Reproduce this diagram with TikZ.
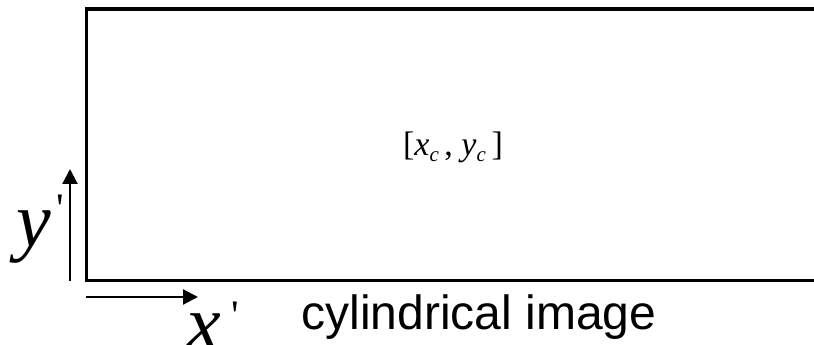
\documentclass[tikz,border=0pt]{standalone}
\usepackage{fontspec}
\setmainfont{Liberation Serif}
\newfontfamily\arialfont{Liberation Sans}
\usetikzlibrary{arrows.meta}
\tikzset{
  frame/.style={line width=3.5pt, line join=miter},
  axis/.style={line width=2.2pt, -{Triangle[width=15pt,length=15pt]}},
  biglabel/.style={inner sep=0pt, font=\fontsize{78}{80}\selectfont},
  primelabel/.style={inner sep=0pt, font=\fontsize{42}{44}\selectfont},
  caption/.style={inner sep=0pt, font=\arialfont\fontsize{48}{50}\selectfont},
  coordlabel/.style={inner sep=0pt, font=\fontsize{34}{36}\selectfont}
}
\begin{document}
\begin{tikzpicture}[x=1pt,y=1pt]
\useasboundingbox (0,0) rectangle (814,345);
\clip (0,0) rectangle (814,345);
\coordinate (tr) at (830,335.8);
\coordinate (tl) at (86.7,335.8);
\coordinate (bl) at (86.7,64.5);
\coordinate (br) at (830,64.5);
\draw[frame] (tr) -- (tl) -- (bl) -- (br);
\coordinate (ys) at (70,64);
\coordinate (ye) at (70,176);
\draw[axis] (ys) -- (ye);
\coordinate (xs) at (86,48);
\coordinate (xe) at (198,48);
\draw[axis] (xs) -- (xe);
\node[biglabel, anchor=base west] (ylab) at (16,98) {\textit{y}};
\node[primelabel, anchor=north] (yprime) at (60,150) {\textquotesingle};
\node[biglabel, anchor=base west] (xlab) at (186,-5) {\textit{x}};
\node[primelabel, anchor=north] (xprime) at (235,43) {\textquotesingle};
\node[coordlabel, anchor=base] (pt) at (453,189) {[\textit{x}\raisebox{-6pt}{\fontsize{21}{22}\selectfont\textit{c}}\,, \textit{y}\raisebox{-6pt}{\fontsize{21}{22}\selectfont\textit{c}}\,]};
\node[caption, anchor=base] (cap) at (479,15) {cylindrical image};
\end{tikzpicture}
\end{document}
